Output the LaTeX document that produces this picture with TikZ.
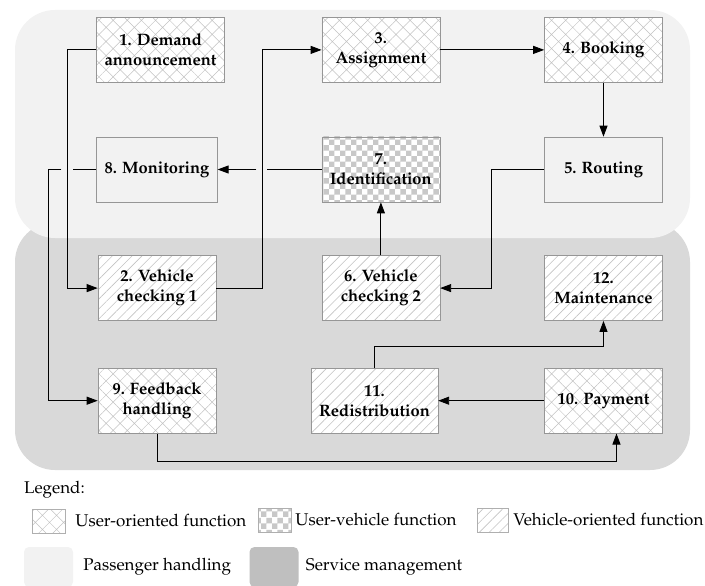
\documentclass[tikz,border=0pt]{standalone}
\usepackage[T1]{fontenc}
\usepackage{mathpazo}
\usetikzlibrary{positioning,arrows.meta,patterns,patterns.meta}

\definecolor{passbg}{RGB}{242,242,242}
\definecolor{servbg}{RGB}{217,217,217}
\definecolor{servkey}{RGB}{191,191,191}
\definecolor{boxline}{RGB}{150,150,150}
\definecolor{keyline}{RGB}{175,175,175}
\definecolor{hatchgray}{RGB}{195,195,195}
\definecolor{checkgray}{RGB}{200,200,200}

\tikzset{
  func/.style={draw=boxline, line width=0.6pt, minimum width=118pt, minimum height=65pt,
    inner xsep=8pt, align=center, font=\fontsize{16.5}{20}\selectfont\bfseries},
  userfn/.style={func, preaction={fill=white},
    pattern={Hatch[angle=45,distance=10pt,line width=0.5pt]}, pattern color=hatchgray},
  mixfn/.style={func, preaction={fill=white}, pattern=checkerboard, pattern color=checkgray},
  vehfn/.style={func, preaction={fill=white},
    pattern={Lines[angle=45,distance=7pt,line width=0.6pt]}, pattern color=hatchgray},
  plainfn/.style={func},
  flow/.style={line width=0.9pt, -{Triangle[length=11pt,width=8pt]}},
  link/.style={line width=0.9pt},
  zone/.style={rounded corners=40pt},
  keybox/.style={draw=keyline, line width=0.4pt, inner sep=0pt, minimum width=33pt, minimum height=24pt},
  keyzone/.style={rounded corners=5pt, inner sep=0pt, minimum width=49pt, minimum height=40pt},
  legtext/.style={font=\fontsize{17}{20}\selectfont, anchor=west, inner sep=0pt},
}

\begin{document}
\begin{tikzpicture}[x=1pt,y=-1pt]
    \useasboundingbox (0,0) rectangle (705,586);

    \fill[zone, fill=servbg] (15,222) rectangle (690,470);
    \fill[zone, fill=passbg] (15,10) rectangle (690,238);

    \node[plainfn] (n8) at (157,169.5) {8. Monitoring};
    \node[mixfn, right=104pt of n8] (n7) {7.\\Identification};
    \node[plainfn, right=104pt of n7] (n5) {5. Routing};
    \node[userfn, above=54pt of n8.north west, anchor=south west] (n1) {1. Demand\\announcement};
    \node[userfn, above=54pt of n7] (n3) {3.\\Assignment};
    \node[userfn, above=54pt of n5] (n4) {4. Booking};
    \node[vehfn, below=53pt of n8] (n2) {2. Vehicle\\checking 1};
    \node[vehfn, below=53pt of n7] (n6) {6. Vehicle\\checking 2};
    \node[vehfn, below=53pt of n5] (n12) {12.\\Maintenance};
    \node[userfn, below=47pt of n2] (n9) {9. Feedback\\handling};
    \node[userfn, below=47pt of n12] (n10) {10. Payment};
    \node[vehfn, left=106pt of n10] (n11) {11.\\Redistribution};

    \coordinate (c12) at ([xshift=-29pt]n1.west);
    \coordinate (c23) at ([xshift=46pt]n2.east);
    \coordinate (x7) at (n7.west -| c23);
    \coordinate (x8) at (n8.west -| c12);

    \draw[flow] (n1.west) -- (c12) |- (n2.west);
    \draw[flow] (n2.east) -- (c23) |- (n3.west);
    \draw[flow] (n3) -- (n4);
    \draw[flow] (n4) -- (n5);
    \draw[flow] (n5.west) -- ++(-53,0) |- (n6.east);
    \draw[flow] (n6) -- (n7);
    \draw[link] (n7.west) -- ([xshift=5pt]x7);
    \draw[flow] ([xshift=-6pt]x7) -- (n8.east);
    \draw[link] (n8.west) -- ([xshift=6pt]x8);
    \draw[flow] ([xshift=-6pt]x8) -- ++(-13,0) |- (n9.west);
    \draw[flow] (n9.south) -- ++(0,28) -| ([xshift=13pt]n10.south);
    \draw[flow] (n10) -- (n11);
    \draw[flow] (n11.north) -- ++(0,-21) -| (n12.south);

    \node[legtext] (leg) at (24,490) {Legend:};
    \node[keybox, preaction={fill=white}, pattern={Hatch[angle=45,distance=10pt,line width=0.5pt]},
      pattern color=hatchgray] (kuser) at (48.5,521) {};
    \node[legtext, right=10pt of kuser] (tuser) {User-oriented function};
    \node[keybox, preaction={fill=white}, pattern=checkerboard, pattern color=checkgray] (kmix) at (274.5,520) {};
    \node[legtext, right=4pt of kmix] (tmix) {User-vehicle function};
    \node[keybox, minimum width=31pt, preaction={fill=white},
      pattern={Lines[angle=45,distance=7pt,line width=0.6pt]}, pattern color=hatchgray] (kveh) at (492.5,520) {};
    \node[legtext, right=5pt of kveh] (tveh) {Vehicle-oriented function};

    \node[keyzone, fill=passbg] (kpass) at (48.5,567) {};
    \node[legtext, right=10pt of kpass] (tpass) {Passenger handling};
    \node[keyzone, fill=servkey] (kserv) at (274,567) {};
    \node[legtext, right=7pt of kserv] (tserv) {Service management};
\end{tikzpicture}
\end{document}
